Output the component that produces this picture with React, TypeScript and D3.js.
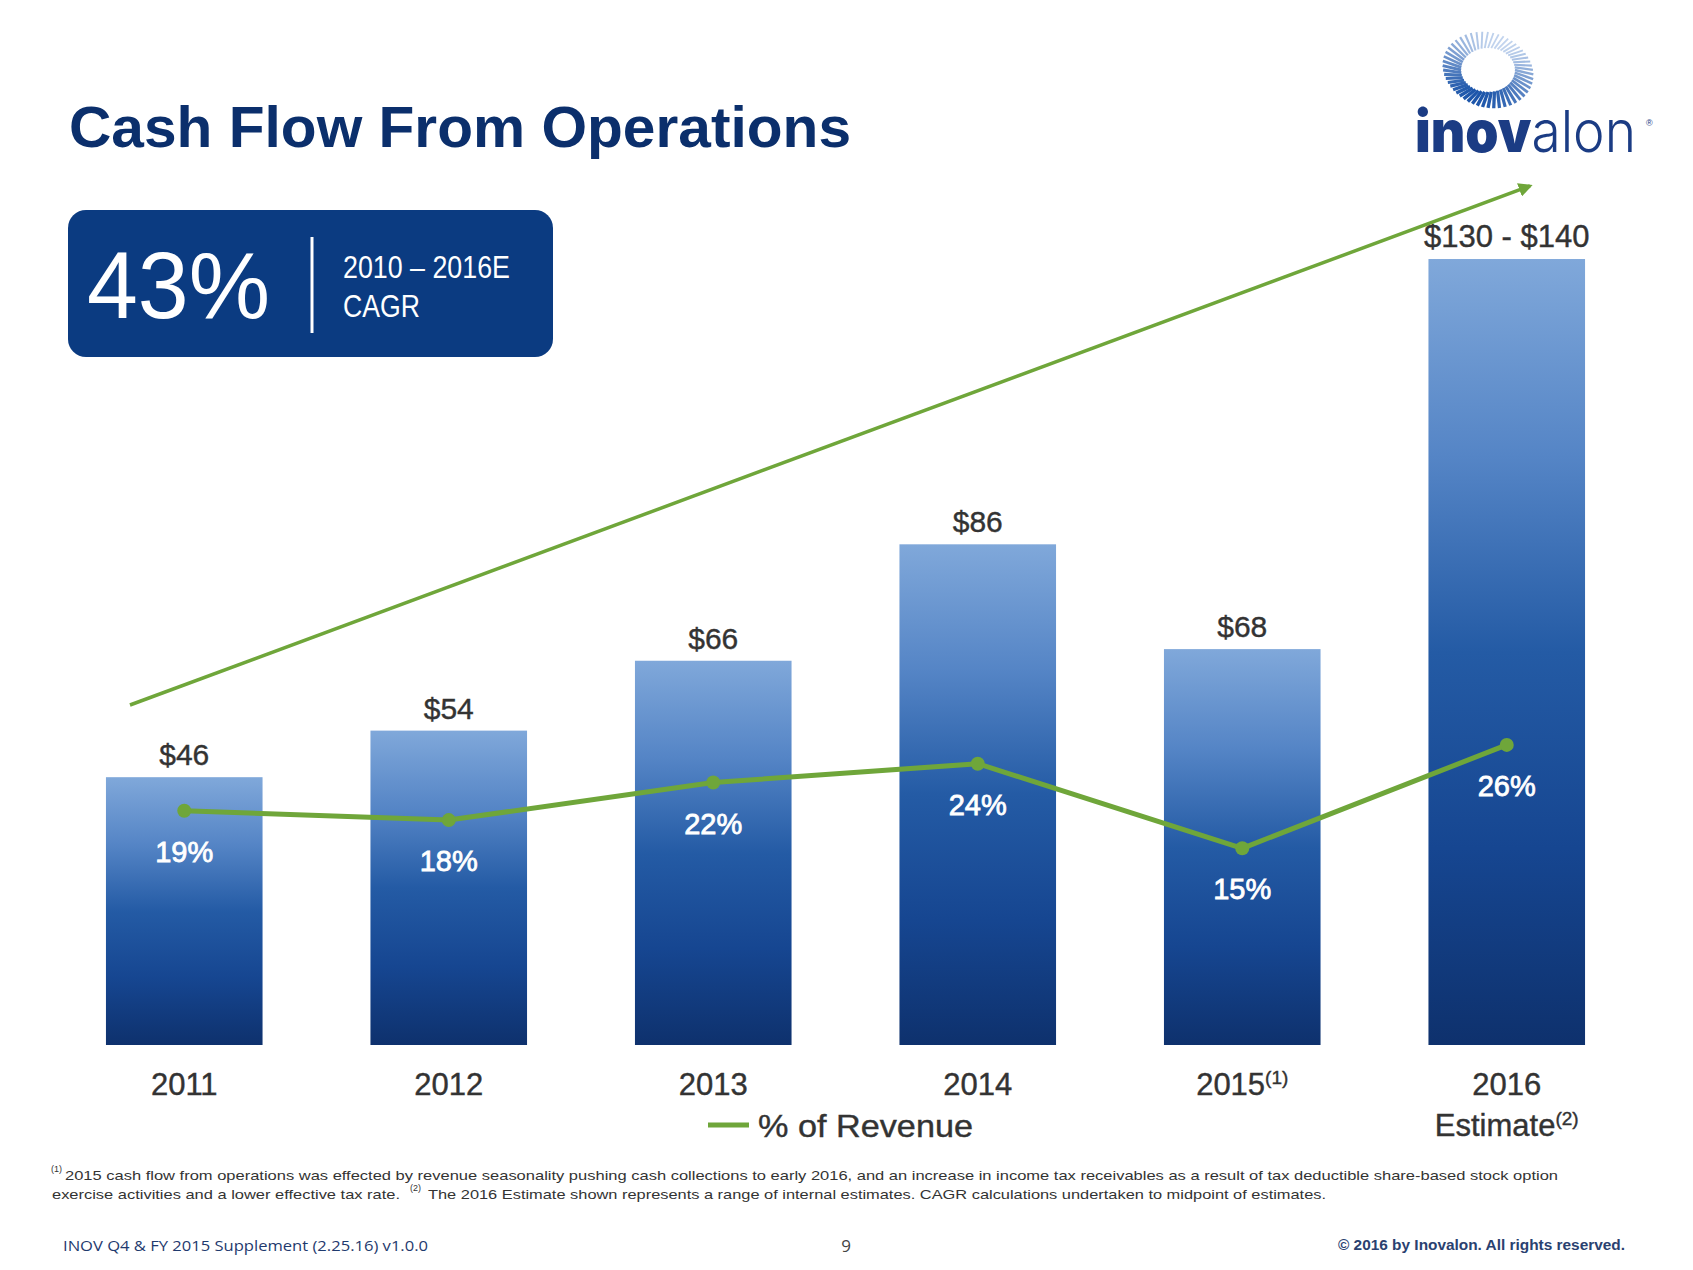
import React from "react";
import * as d3 from "d3";

const years = ["2011", "2012", "2013", "2014", "2015", "2016"];
const yearSup = ["", "", "", "", "(1)", ""];
const yearSecondLine = ["", "", "", "", "", "Estimate"];
const yearSecondSup = ["", "", "", "", "", "(2)"];
const cashFlow = [46, 54, 66, 86, 68, 135];
const cashLabels = ["$46", "$54", "$66", "$86", "$68", "$130 - $140"];
const pctRevenue = [19, 18, 22, 24, 15, 26];
const pctLabels = ["19%", "18%", "22%", "24%", "15%", "26%"];

const W = 1693;
const H = 1270;
const GREEN = "#6fa63a";
const NAVY = "#0b2f6c";
const FONT = "'Liberation Sans', Arial, sans-serif";

const footnote1 =
  "2015 cash flow from operations was effected by revenue seasonality pushing cash collections to early 2016, and an increase in income tax receivables as a result of tax deductible share-based stock option";
const footnote2a = "exercise activities and a lower effective tax rate.";
const footnote2b =
  "The 2016 Estimate shown represents a range of internal estimates. CAGR calculations undertaken to midpoint of estimates.";

function Logo() {
  const cx = 1488;
  const cy = 70;
  const n = 52;
  const dashes = d3.range(n).map((i) => {
    const a = (i / n) * Math.PI * 2;
    const rx = 49;
    const ry = 40;
    const r0 = 0.55;
    const len = 0.7 + 0.3 * ((Math.sin(a * 2) + 1) / 2);
    const x0 = cx + Math.cos(a) * rx * r0;
    const y0 = cy + Math.sin(a) * ry * r0;
    const x1 = cx + Math.cos(a + 0.12) * rx * (r0 + (1 - r0) * len);
    const y1 = cy + Math.sin(a + 0.12) * ry * (r0 + (1 - r0) * len);
    const t = (Math.sin(a - 0.3) + 1) / 2;
    const color = d3.interpolateRgb("#c2d4ee", "#1d56aa")(t);
    return { x0, y0, x1, y1, color, w: 1.8 + 1.6 * t };
  });
  return (
    <g>
      {dashes.map((d, i) => (
        <line key={i} x1={d.x0} y1={d.y0} x2={d.x1} y2={d.y1} stroke={d.color} strokeWidth={d.w} />
      ))}
      <text x={1415} y={152} fontFamily="Inter, 'Liberation Sans', sans-serif" fontSize={58} fill="#1b3c84" textLength={221} lengthAdjust="spacingAndGlyphs">
        <tspan fontWeight={900}>inov</tspan>
        <tspan fontWeight={300}>alon</tspan>
      </text>
      <text x={1646} y={126} fontFamily={FONT} fontSize={9} fill="#1b3c84">®</text>
    </g>
  );
}

export default function App() {
  const x = d3.scaleBand<string>().domain(years).range([52, 1639]).paddingInner(0.408).paddingOuter(0.204);
  const y = d3.scaleLinear().domain([0, 140]).range([1045, 1045 - 140 * 5.822]);
  const yp = d3.scaleLinear().domain([0, 30]).range([989.3, 707.3]);
  const cxOf = (i: number) => (x(years[i]) as number) + x.bandwidth() / 2;

  const linePath = d3
    .line<number>()
    .x((_, i) => cxOf(i))
    .y((d) => yp(d))(pctRevenue) as string;

  return (
    <div style={{ position: "absolute", left: 0, top: 0, width: W, height: H, background: "#fff" }}>
      <svg width={W} height={H} viewBox={`0 0 ${W} ${H}`} style={{ display: "block" }}>
        <defs>
          <linearGradient id="barGrad" x1="0" y1="0" x2="0" y2="1">
            <stop offset="0%" stopColor="#80a8da" />
            <stop offset="25%" stopColor="#5585c6" />
            <stop offset="50%" stopColor="#245ba5" />
            <stop offset="75%" stopColor="#164691" />
            <stop offset="100%" stopColor="#0e316d" />
          </linearGradient>
          <marker id="arrowHead" viewBox="0 0 10 10" refX="8" refY="5" markerWidth="4" markerHeight="4" orient="auto" markerUnits="strokeWidth">
            <path d="M0,0 L10,5 L0,10 z" fill={GREEN} />
          </marker>
        </defs>

        {/* Title */}
        <text x={69} y={147} fontFamily={FONT} fontWeight="bold" fontSize={58} fill={NAVY} textLength={782} lengthAdjust="spacingAndGlyphs">
          Cash Flow From Operations
        </text>

        <Logo />

        {/* CAGR box */}
        <rect x={68} y={210} width={485} height={147} rx={18} ry={18} fill="#0b3b81" />
        <text x={87} y={318} fontFamily={FONT} fontSize={94} fill="#fff" textLength={183} lengthAdjust="spacingAndGlyphs">
          43%
        </text>
        <line x1={312} x2={312} y1={237} y2={333} stroke="#fff" strokeWidth={3} />
        <text x={343} y={278} fontFamily="'Liberation Sans Narrow', 'Arial Narrow', 'Liberation Sans', sans-serif" fontSize={31} fill="#fff" textLength={167} lengthAdjust="spacingAndGlyphs">
          2010 – 2016E
        </text>
        <text x={343} y={317} fontFamily="'Liberation Sans Narrow', 'Arial Narrow', 'Liberation Sans', sans-serif" fontSize={31} fill="#fff" textLength={77} lengthAdjust="spacingAndGlyphs">
          CAGR
        </text>

        {/* Bars */}
        {cashFlow.map((v, i) => (
          <rect
            key={years[i]}
            x={x(years[i])}
            y={y(v)}
            width={x.bandwidth()}
            height={y(0) - y(v)}
            fill="url(#barGrad)"
          />
        ))}

        {/* Value labels */}
        {cashFlow.map((v, i) => (
          <text
            key={"v" + i}
            x={cxOf(i)}
            y={y(v) - 12}
            textAnchor="middle"
            fontFamily={FONT}
            fontSize={i === 5 ? 31 : 30}
            fill="#333"
            stroke="#333"
            strokeWidth={0.4}
          >
            {cashLabels[i]}
          </text>
        ))}

        {/* Trend arrow */}
        <line x1={130} y1={705} x2={1530} y2={186} stroke={GREEN} strokeWidth={3.5} markerEnd="url(#arrowHead)" />

        {/* % of revenue line */}
        <path d={linePath} fill="none" stroke={GREEN} strokeWidth={5} strokeLinejoin="round" />
        {pctRevenue.map((p, i) => (
          <circle key={"c" + i} cx={cxOf(i)} cy={yp(p)} r={7} fill={GREEN} />
        ))}
        {pctRevenue.map((p, i) => (
          <text
            key={"p" + i}
            x={cxOf(i)}
            y={yp(p) + 51}
            textAnchor="middle"
            fontFamily={FONT}
            fontSize={29}
            fill="#fff"
            stroke="#fff"
            strokeWidth={0.8}
          >
            {pctLabels[i]}
          </text>
        ))}

        {/* Category labels */}
        {years.map((yr, i) => (
          <g key={"cat" + i}>
            <text x={cxOf(i)} y={1095} textAnchor="middle" fontFamily={FONT} fontSize={31} fill="#333" stroke="#333" strokeWidth={0.4}>
              {yr}
              {yearSup[i] && (
                <tspan fontSize={19} dy={-11}>
                  {yearSup[i]}
                </tspan>
              )}
            </text>
            {yearSecondLine[i] && (
              <text x={cxOf(i)} y={1136} textAnchor="middle" fontFamily={FONT} fontSize={31} fill="#333" stroke="#333" strokeWidth={0.4}>
                {yearSecondLine[i]}
                <tspan fontSize={19} dy={-11}>
                  {yearSecondSup[i]}
                </tspan>
              </text>
            )}
          </g>
        ))}

        {/* Legend */}
        <line x1={708} x2={749} y1={1125} y2={1125} stroke={GREEN} strokeWidth={5} />
        <text x={758} y={1137} fontFamily={FONT} fontSize={32} fill="#333" stroke="#333" strokeWidth={0.4} textLength={215} lengthAdjust="spacingAndGlyphs">
          % of Revenue
        </text>

        {/* Footnotes */}
        <text x={51} y={1172} fontFamily={FONT} fontSize={9} fill="#333">(1)</text>
        <text x={65} y={1180} fontFamily={FONT} fontSize={13.5} fill="#333" textLength={1493} lengthAdjust="spacingAndGlyphs">
          {footnote1}
        </text>
        <text x={52} y={1199} fontFamily={FONT} fontSize={13.5} fill="#333" textLength={348} lengthAdjust="spacingAndGlyphs">
          {footnote2a}
        </text>
        <text x={410} y={1191} fontFamily={FONT} fontSize={9} fill="#333">(2)</text>
        <text x={428} y={1199} fontFamily={FONT} fontSize={13.5} fill="#333" textLength={898} lengthAdjust="spacingAndGlyphs">
          {footnote2b}
        </text>

        {/* Bottom bar */}
        <text x={63} y={1251} fontFamily="'Open Sans', 'Liberation Sans', sans-serif" fontSize={14} fill="#1f3a6e" textLength={365} lengthAdjust="spacingAndGlyphs">
          INOV Q4 &amp; FY 2015 Supplement (2.25.16) v1.0.0
        </text>
        <text x={846} y={1252} textAnchor="middle" fontFamily="'Open Sans', 'Liberation Sans', sans-serif" fontSize={17} fill="#444">
          9
        </text>
        <text x={1338} y={1250} fontFamily={FONT} fontSize={14} fontWeight="bold" fill="#2a4170" textLength={287} lengthAdjust="spacingAndGlyphs">
          © 2016 by Inovalon. All rights reserved.
        </text>
      </svg>
    </div>
  );
}
